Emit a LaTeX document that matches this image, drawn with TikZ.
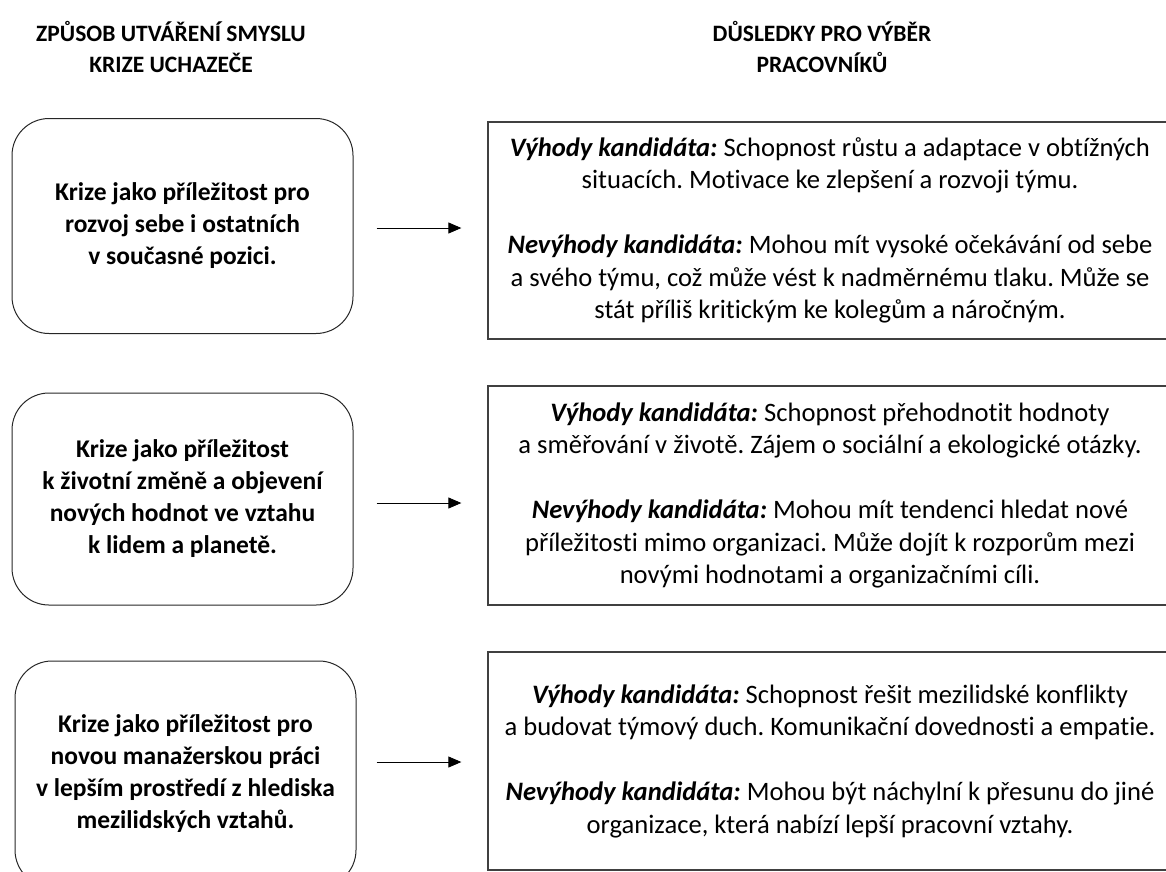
\documentclass[tikz,border=0pt]{standalone}
\usepackage{fontspec}
\setmainfont{Carlito}[Ligatures=NoCommon]
\usetikzlibrary{arrows.meta,calc}
\frenchspacing
\begin{document}
\begin{tikzpicture}[x=1pt,y=-1pt,
  head/.style={font=\bfseries\fontsize{23.5}{31}\selectfont, align=center},
  sense/.style={draw=black!85, line width=1pt, rounded corners=37pt,
    minimum width=341pt, font=\bfseries\fontsize{25.5}{32}\selectfont,
    align=center, inner sep=0pt},
  effect/.style={draw=black!75, line width=1.3pt, minimum width=684pt,
    font=\fontsize{26.6}{32.5}\selectfont, align=center, inner sep=0pt},
  arr/.style={line width=0.9pt, -{Triangle[length=13pt,width=11pt]}}]
\useasboundingbox (0,0) rectangle (1166,871);
\clip (0,0) rectangle (1166,871);

% column headings
\node[head] (h1) at (171,47) {ZPŮSOB UTVÁŘENÍ SMYSLU\\KRIZE UCHAZEČE};
\node[head] (h2) at (822,47) {DŮSLEDKY PRO VÝBĚR\\PRACOVNÍKŮ};

% ways of making sense of the crisis
\node[sense, minimum height=215pt] (l1) at (182.5,226)
  {Krize jako příležitost pro\\rozvoj sebe i ostatních\\v současné pozici.};
\node[sense, minimum height=212pt] (l2) at (182.5,499)
  {Krize jako příležitost\\k životní změně a objevení\\nových hodnot ve vztahu\\k lidem a planetě.};
\node[sense, minimum height=226pt] (l3) at (185.5,774)
  {Krize jako příležitost pro\\novou manažerskou práci\\v lepším prostředí z hlediska\\mezilidských vztahů.};

% consequences for personnel selection
\node[effect, minimum height=217pt] (r1) at (830,230.5)
  {\textbf{\textit{Výhody kandidáta:}} Schopnost růstu a adaptace v obtížných\\
   situacích. Motivace ke zlepšení a rozvoji týmu.\\[32.5pt]
   \textbf{\textit{Nevýhody kandidáta:}} Mohou mít vysoké očekávání od sebe\\
   a svého týmu, což může vést k nadměrnému tlaku. Může se\\
   stát příliš kritickým ke kolegům a náročným.};
\node[effect, minimum height=219pt] (r2) at (830,495.5)
  {\textbf{\textit{Výhody kandidáta:}} Schopnost přehodnotit hodnoty\\
   a směřování v životě. Zájem o sociální a ekologické otázky.\\[32.5pt]
   \textbf{\textit{Nevýhody kandidáta:}} Mohou mít tendenci hledat nové\\
   příležitosti mimo organizaci. Může dojít k rozporům mezi\\
   novými hodnotami a organizačními cíli.};
\node[effect, minimum height=218pt] (r3) at (830,761)
  {\textbf{\textit{Výhody kandidáta:}} Schopnost řešit mezilidské konflikty\\
   a budovat týmový duch. Komunikační dovednosti a empatie.\\[32.5pt]
   \textbf{\textit{Nevýhody kandidáta:}} Mohou být náchylní k přesunu do jiné\\
   organizace, která nabízí lepší pracovní vztahy.};

% arrow rows
\coordinate (a1) at (0,228);
\coordinate (a2) at (0,503);
\coordinate (a3) at (0,762);

\draw[arr] ($(l1.east |- a1)+(23,0)$) -- ($(r1.west |- a1)+(-26,0)$);
\draw[arr] ($(l2.east |- a2)+(23,0)$) -- ($(r2.west |- a2)+(-26,0)$);
\draw[arr] ($(l3.east |- a3)+(20,0)$) -- ($(r3.west |- a3)+(-26,0)$);
\end{tikzpicture}
\end{document}
